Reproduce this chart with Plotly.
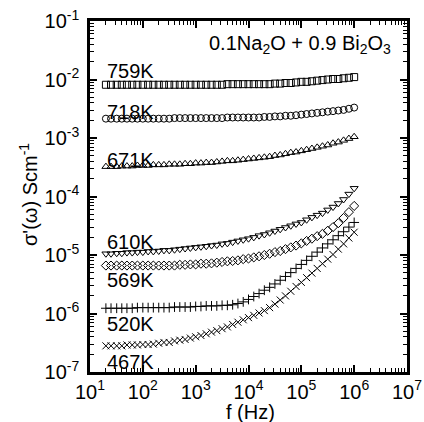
import plotly.graph_objects as go

freq = [20, 25, 32, 40, 50, 63, 79,
        100, 126, 158, 200, 251, 316, 398, 501, 631, 794,
        1000, 1259, 1585, 1995, 2512, 3162, 3981, 5012, 6310, 7943,
        10000, 12589, 15849, 19953, 25119, 31623, 39811, 50119, 63096, 79433,
        100000, 125893, 158489, 199526, 251189, 316228, 398107, 501187, 630957, 794328,
        1000000]

s759 = [8.13e-3] * 23 + [8.32e-3] * 9 + [
    8.51e-3, 8.51e-3, 8.71e-3, 8.71e-3, 8.91e-3, 9.12e-3, 9.12e-3, 9.33e-3,
    9.55e-3, 9.77e-3, 1.0e-2, 1.02e-2, 1.02e-2, 1.05e-2, 1.07e-2, 1.1e-2]

s718 = [2.14e-3] * 13 + [2.19e-3] * 10 + [2.24e-3] * 7 + [
    2.29e-3, 2.29e-3, 2.34e-3, 2.34e-3, 2.4e-3, 2.4e-3, 2.45e-3, 2.51e-3,
    2.57e-3, 2.63e-3, 2.69e-3, 2.75e-3, 2.82e-3, 2.88e-3, 2.95e-3, 3.02e-3,
    3.16e-3, 3.31e-3]

s671 = [3.24e-4, 3.24e-4, 3.24e-4, 3.31e-4, 3.31e-4, 3.31e-4, 3.39e-4, 3.39e-4,
        3.39e-4, 3.47e-4, 3.47e-4, 3.47e-4, 3.55e-4, 3.55e-4, 3.55e-4, 3.63e-4,
        3.63e-4, 3.72e-4, 3.72e-4, 3.8e-4, 3.8e-4, 3.89e-4, 3.98e-4, 4.07e-4,
        4.07e-4, 4.17e-4, 4.27e-4, 4.37e-4, 4.47e-4, 4.57e-4, 4.68e-4, 4.79e-4,
        5.01e-4, 5.13e-4, 5.37e-4, 5.62e-4, 5.75e-4, 6.03e-4, 6.31e-4, 6.61e-4,
        6.92e-4, 7.24e-4, 7.59e-4, 8.13e-4, 8.51e-4, 9.12e-4, 9.77e-4, 1.05e-3]

s610 = [1.05e-5, 1.05e-5, 1.07e-5, 1.07e-5, 1.1e-5, 1.1e-5, 1.12e-5, 1.12e-5,
        1.15e-5, 1.15e-5, 1.17e-5, 1.2e-5, 1.2e-5, 1.23e-5, 1.26e-5, 1.29e-5,
        1.32e-5, 1.35e-5, 1.38e-5, 1.41e-5, 1.45e-5, 1.48e-5, 1.55e-5, 1.58e-5,
        1.66e-5, 1.74e-5, 1.82e-5, 1.9e-5, 2.0e-5, 2.14e-5, 2.24e-5, 2.4e-5,
        2.57e-5, 2.75e-5, 2.95e-5, 3.16e-5, 3.4e-5, 3.6e-5, 4.0e-5, 4.4e-5,
        4.8e-5, 5.2e-5, 5.9e-5, 6.6e-5, 7.6e-5, 8.9e-5, 1.1e-4, 1.38e-4]

s569 = [6.6e-6] * 14 + [
    6.8e-6, 6.8e-6, 6.9e-6, 6.9e-6, 7.1e-6, 7.1e-6, 7.2e-6, 7.4e-6, 7.6e-6,
    7.8e-6, 7.9e-6, 8.1e-6, 8.5e-6, 8.7e-6, 9.1e-6, 9.5e-6, 1.0e-5, 1.05e-5,
    1.12e-5, 1.17e-5, 1.26e-5, 1.35e-5, 1.45e-5, 1.58e-5, 1.74e-5, 1.9e-5,
    2.1e-5, 2.3e-5, 2.6e-5, 3.0e-5, 3.5e-5, 4.3e-5, 5.4e-5, 6.9e-5]

s520 = [1.23e-6] * 6 + [1.26e-6] * 7 + [1.29e-6] * 4 + [1.32e-6] * 2 + [
    1.35e-6, 1.35e-6, 1.35e-6, 1.38e-6, 1.38e-6, 1.41e-6, 1.48e-6, 1.58e-6,
    1.74e-6, 1.95e-6, 2.19e-6, 2.5e-6, 2.8e-6, 3.2e-6, 3.7e-6, 4.3e-6, 5.0e-6,
    5.9e-6, 6.9e-6, 8.1e-6, 9.5e-6, 1.12e-5, 1.32e-5, 1.55e-5, 1.82e-5,
    2.14e-5, 2.5e-5, 3.0e-5, 3.6e-5]

s467 = [2.8e-7, 2.8e-7, 2.8e-7, 2.8e-7, 2.9e-7, 2.9e-7, 2.9e-7, 2.95e-7,
        2.95e-7, 3.0e-7, 3.1e-7, 3.2e-7, 3.2e-7, 3.4e-7, 3.5e-7, 3.6e-7,
        3.8e-7, 4.0e-7, 4.2e-7, 4.5e-7, 4.8e-7, 5.1e-7, 5.5e-7, 5.9e-7,
        6.5e-7, 7.1e-7, 7.8e-7, 8.5e-7, 9.3e-7, 1.02e-6, 1.12e-6, 1.26e-6,
        1.45e-6, 1.7e-6, 2.0e-6, 2.4e-6, 2.9e-6, 3.4e-6, 4.1e-6, 4.9e-6,
        5.9e-6, 7.1e-6, 8.5e-6, 1.02e-5, 1.26e-5, 1.55e-5, 1.95e-5, 2.45e-5]

series_names = ["759K", "718K", "671K", "610K", "569K", "520K", "467K"]
series_vals = [s759, s718, s671, s610, s569, s520, s467]
symbols = ["square-open", "circle-open", "triangle-up-open", "triangle-down-open",
           "diamond-open", "cross-thin-open", "x-thin-open"]
label_y = [72.5, 113.5, 161, 243, 281, 325, 363]  # pixel centers of labels (page)

x_ticks = [10, 100, 1000, 10000, 100000, 1000000, 10000000]
x_ticktext = ["10<sup>%d</sup>" % e for e in range(1, 8)]
y_ticks = [1e-7, 1e-6, 1e-5, 1e-4, 1e-3, 1e-2, 1e-1]
y_ticktext = ["10<sup>-%d</sup>" % e for e in range(7, 0, -1)]

FONT = "Liberation Sans, Arial, sans-serif"
W, H = 424, 422
L, R, T, B = 90, 17, 21, 50
PW, PH = W - L - R, H - T - B
PL, PB = L, H - B   # page pixel of plot left / bottom

fig = go.Figure()
for name, vals, sym in zip(series_names, series_vals, symbols):
    fig.add_trace(go.Scatter(
        x=freq, y=vals, mode="markers", name=name,
        marker=dict(symbol=sym, size=7, color="black",
                    line=dict(color="black", width=1))))

minor_x = [m * 10 ** e for e in range(1, 7) for m in range(2, 10)]
minor_y = [m * 10.0 ** e for e in range(-7, -1) for m in range(2, 10)]

axis_common = dict(
    type="log", showline=True, linecolor="black", linewidth=2.5, mirror="ticks",
    ticks="inside", ticklen=7, tickwidth=1.5, tickcolor="black",
    showgrid=False, zeroline=False, tickmode="array", automargin=False,
    ticklabeloverflow="allow",
    tickfont=dict(family=FONT, size=20, color="black"),
)

fig.update_xaxes(range=[1, 7], tickvals=x_ticks, ticktext=x_ticktext,
                 ticklabelstandoff=0,
                 minor=dict(tickmode="array", tickvals=minor_x, ticks="inside",
                            ticklen=4, tickwidth=1, tickcolor="black"),
                 **axis_common)
fig.update_yaxes(range=[-7, -1], tickvals=y_ticks, ticktext=y_ticktext,
                 ticklabelstandoff=4,
                 minor=dict(tickmode="array", tickvals=minor_y, ticks="inside",
                            ticklen=4, tickwidth=1, tickcolor="black"),
                 **axis_common)

annotations = []
for name, yc in zip(series_names, label_y):
    annotations.append(dict(
        text=name, xref="paper", yref="paper",
        x=(105 - PL) / PW, y=(PB - yc) / PH + 0.004,
        xanchor="left", yanchor="middle", showarrow=False,
        font=dict(family=FONT, size=20, color="black")))

annotations.append(dict(
    text="0.1Na<sub>2</sub>O + 0.9 Bi<sub>2</sub>O<sub>3</sub>",
    xref="paper", yref="paper", x=(393 - PL) / PW, y=(PB - 44) / PH,
    xanchor="right", yanchor="middle", showarrow=False,
    font=dict(family=FONT, size=20, color="black")))
annotations.append(dict(
    text="f (Hz)", xref="paper", yref="paper",
    x=(250 - PL) / PW, y=(PB - 412) / PH,
    xanchor="center", yanchor="middle", showarrow=False,
    font=dict(family=FONT, size=20, color="black")))
annotations.append(dict(
    text="σ'(ω) Scm<sup>-1</sup>", xref="paper", yref="paper",
    x=(28 - PL) / PW, y=(PB - 195) / PH, textangle=-90,
    xanchor="center", yanchor="middle", showarrow=False,
    font=dict(family=FONT, size=20, color="black")))

fig.update_layout(
    width=W, height=H, margin=dict(l=L, r=R, t=T, b=B),
    paper_bgcolor="white", plot_bgcolor="white", showlegend=False,
    annotations=annotations,
)

fig.write_html(
    "out.html",
    config={"displayModeBar": False},
    post_script="document.body.style.margin='0';"
                "document.body.style.overflow='hidden';",
)
